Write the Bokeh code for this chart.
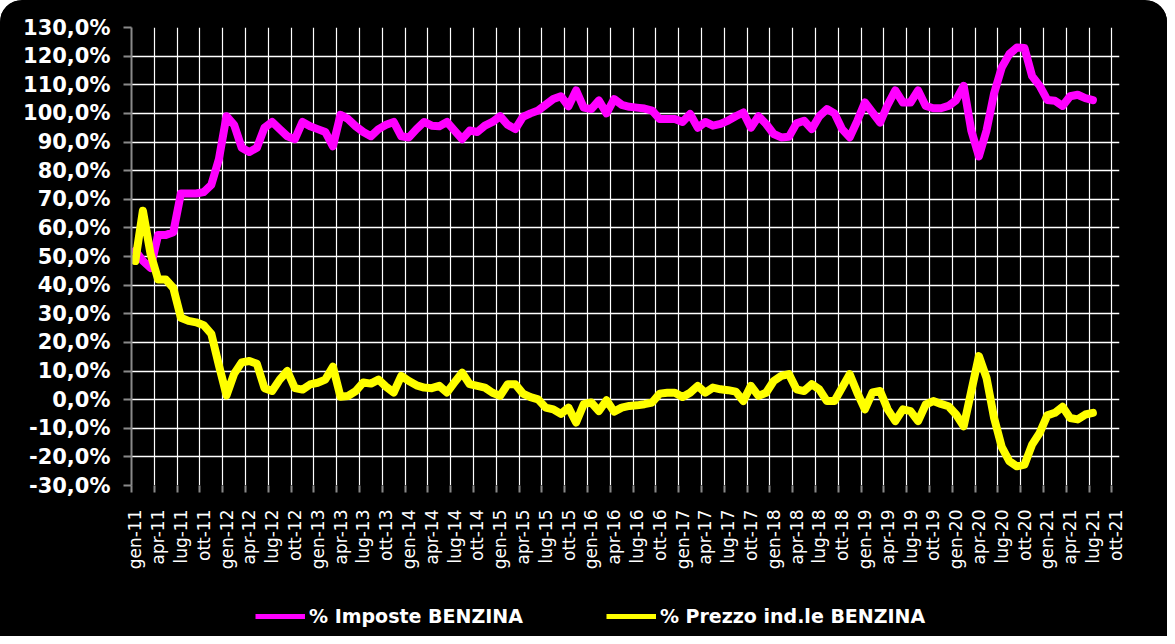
import numpy as np
from bokeh.plotting import figure
from bokeh.layouts import column
from bokeh.models import Range1d, FixedTicker, Legend, LegendItem
from bokeh.embed import file_html
from bokeh.resources import INLINE

# ---- data -------------------------------------------------------------
mesi = ["gen", "feb", "mar", "apr", "mag", "giu", "lug", "ago", "set", "ott", "nov", "dic"]
anni = ["11", "12", "13", "14", "15", "16", "17", "18", "19", "20", "21"]
categorie = [f"{m}-{a}" for a in anni for m in mesi][:130]   # gen-11 .. ott-21

imposte = [
    52, 48.5, 46, 57.5, 57.5, 58.5, 72, 72, 72, 72.5,
    75, 84, 99, 96, 88, 86.5, 88, 95, 97, 94.5,
    92, 91, 97, 95.5, 94.5, 93.5, 88.5, 99.5, 98, 95.5,
    93.5, 92, 94.5, 96, 97, 92, 91.6, 94.5, 97, 95.7,
    95.5, 97, 94, 91, 94, 93.5, 95.7, 97, 99, 96,
    94.5, 98.8, 100, 101, 103, 105, 106, 102.5, 108, 102,
    101.5, 104.5, 100, 105, 103, 102.3, 102, 101.7, 101, 98,
    98, 98, 97, 99.8, 95, 97, 95.7, 96.3, 97.5, 99,
    100.3, 95, 99, 96.3, 92.8, 91.6, 91.8, 96.5, 97.4, 94.5,
    99, 101.5, 100, 94.5, 91.6, 97.4, 103.8, 100.3, 96.8, 103,
    108, 103.8, 103.8, 108, 102.6, 101.8, 101.8, 102.6, 104.6, 109.6,
    94, 85, 94, 107, 116, 120.7, 123, 122.8, 113, 109.6,
    104.7, 104.4, 102.6, 106, 106.5, 105.3, 104.6,
]

prezzo = [
    48.4, 66, 51, 42, 42, 39, 28.6, 27.5, 27, 26,
    23, 12, 1.5, 9, 13, 13.5, 12.5, 4, 3, 7,
    10, 4, 3.5, 5.3, 5.9, 7, 11.5, 1, 1.3, 3,
    6, 5.6, 7, 4.5, 2.5, 8.3, 6.5, 5, 4.2, 4,
    4.8, 2.5, 6, 9.4, 5.4, 4.8, 4.2, 2.4, 1.3, 5.4,
    5.4, 2.1, 0.9, 0.1, -2.8, -3.4, -5, -2.8, -8, -1.6,
    -1, -4, -0.2, -4.2, -2.8, -2.2, -2, -1.6, -1, 2.1,
    2.4, 2.4, 0.9, 2.4, 4.8, 2.4, 4.2, 3.6, 3.3, 2.8,
    -0.5, 4.8, 1.3, 2.4, 6.5, 8.3, 8.9, 3.6, 3, 5.4,
    3.6, -0.5, -0.5, 4.2, 8.9, 2.4, -3.4, 2.5, 3, -3.4,
    -7.5, -3.4, -4, -7.5, -1.7, -0.5, -1.5, -2.3, -5.2, -9.3,
    3, 15.2, 7.6, -6.4, -16.5, -21.5, -23.3, -22.7, -15.7, -11.6,
    -5.5, -4.6, -2.5, -6.4, -6.9, -5.2, -4.6,
]

y_ticks = list(range(-30, 140, 10))
serie_labels = ["% Imposte BENZINA", "% Prezzo ind.le BENZINA"]
serie_colors = ["#FF00FF", "#FFFF00"]

# ---- main figure ------------------------------------------------------
n_cat = len(categorie)
x = [i + 0.5 for i in range(len(imposte))]   # points at the centre of each month slot

p = figure(frame_width=988, frame_height=458,
           x_range=Range1d(0, n_cat), y_range=Range1d(-30, 130),
           output_backend="svg", toolbar_location=None,
           background_fill_color="black", border_fill_color="black",
           min_border_left=131, min_border_right=48,
           min_border_top=27, min_border_bottom=103)
p.outline_line_color = None
p.styles = {"border-top-left-radius": "22px", "border-top-right-radius": "22px",
            "overflow": "hidden"}

# x axis: labels every quarter, centred on month slot; tick marks on boundaries
label_pos = [k + 0.5 for k in range(0, n_cat, 3)]
boundaries = list(range(0, n_cat, 3))
xa = p.xaxis[0]
xa.ticker = FixedTicker(ticks=label_pos, minor_ticks=boundaries)
xa.major_label_overrides = {k + 0.5: categorie[k] for k in range(0, n_cat, 3)}
xa.major_label_orientation = np.pi / 2
xa.major_label_text_color = "white"
xa.major_label_text_font = "DejaVu Sans"
xa.major_label_text_font_size = "17px"
xa.major_label_standoff = 17
xa.major_tick_out = 0
xa.major_tick_in = 0
xa.minor_tick_out = 7
xa.minor_tick_in = 0
xa.minor_tick_line_color = "#8a8a8a"
xa.minor_tick_line_width = 2
xa.axis_line_color = None

# y axis
ya = p.yaxis[0]
ya.ticker = FixedTicker(ticks=y_ticks, minor_ticks=[])
ya.major_label_overrides = {v: f"{v},0%" for v in y_ticks}
ya.major_label_text_color = "white"
ya.major_label_text_font = "DejaVu Sans"
ya.major_label_text_font_style = "bold"
ya.major_label_text_font_size = "21px"
ya.major_label_standoff = 13
ya.major_tick_out = 8
ya.major_tick_in = 0
ya.major_tick_line_color = "#8a8a8a"
ya.major_tick_line_width = 2
ya.axis_line_color = "#8a8a8a"
ya.axis_line_width = 2

# grids
p.xgrid.ticker = FixedTicker(ticks=list(range(3, n_cat, 3)))
p.xgrid.grid_line_color = "white"
p.xgrid.grid_line_width = 1.2
p.ygrid.ticker = FixedTicker(ticks=list(range(-20, 130, 10)))
p.ygrid.grid_line_color = "white"
p.ygrid.grid_line_width = 1.6

# lines
p.line(x, imposte, line_color=serie_colors[0], line_width=8,
       line_join="round", line_cap="round")
p.line(x, prezzo, line_color=serie_colors[1], line_width=8,
       line_join="round", line_cap="round")

# ---- legend strip (same series, legend only) -------------------------
pl = figure(width=1167, height=48, x_range=Range1d(0, n_cat),
            y_range=Range1d(1000, 1001), output_backend="svg",
            toolbar_location=None, x_axis_type=None, y_axis_type=None,
            background_fill_color="black", border_fill_color="black",
            min_border=0)
pl.outline_line_color = None
pl.grid.visible = False
l1 = pl.line(x, imposte, line_color=serie_colors[0], line_width=5)
l2 = pl.line(x, prezzo, line_color=serie_colors[1], line_width=5)
legend = Legend(items=[LegendItem(label=serie_labels[0], renderers=[l1]),
                       LegendItem(label=serie_labels[1], renderers=[l2])],
                orientation="horizontal", location=(120, 5),
                label_text_color="white", label_text_font="DejaVu Sans",
                label_text_font_style="bold", label_text_font_size="19px",
                glyph_width=50, glyph_height=20, label_standoff=4, spacing=83,
                background_fill_alpha=0, border_line_alpha=0,
                margin=0, padding=4)
pl.add_layout(legend, "center")

layout = column(p, pl, spacing=0)
layout.styles = {"background-color": "black", "border-top-left-radius": "22px",
                 "border-top-right-radius": "22px"}

open("out.html", "w").write(file_html(layout, INLINE))
